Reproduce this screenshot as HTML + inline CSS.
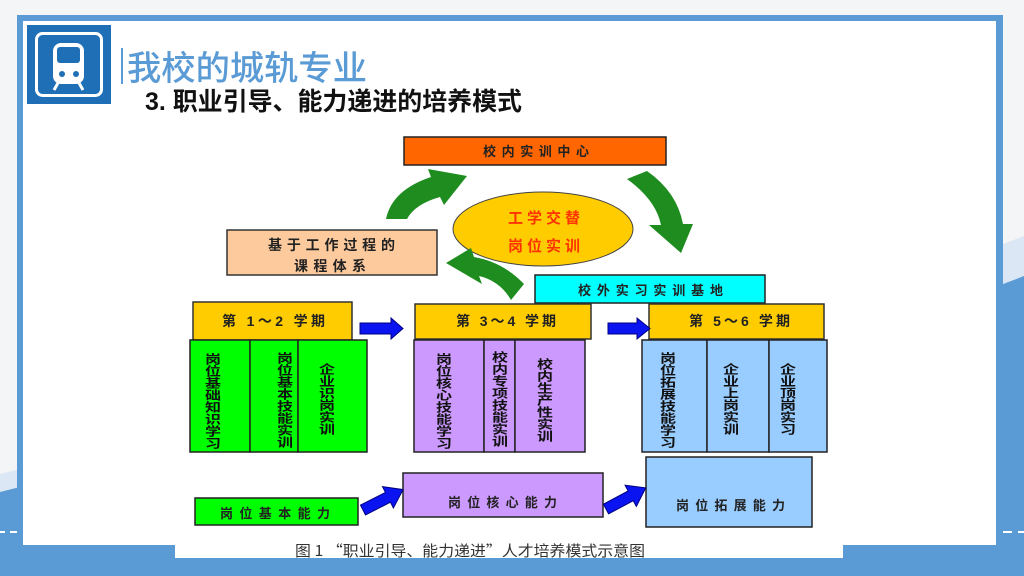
<!DOCTYPE html>
<html><head><meta charset="utf-8">
<style>
html,body{margin:0;padding:0;}
body{width:1024px;height:576px;position:relative;overflow:hidden;background:#f4f5f7;font-family:"Liberation Sans","Noto Sans CJK SC",sans-serif;}
svg{position:absolute;left:0;top:0;}
.v{position:absolute;writing-mode:vertical-rl;font-family:"Liberation Sans","Noto Sans CJK SC",sans-serif;font-weight:700;font-size:16px;line-height:16px;color:#111;width:16px;transform:scaleY(0.75);transform-origin:0 0;white-space:nowrap;}
</style></head><body>
<svg width="1024" height="576" viewBox="0 0 1024 576" font-family="'Liberation Sans','Noto Sans CJK SC',sans-serif">
  <!-- background -->
  <rect width="1024" height="576" fill="#f4f5f7"/>
  <polygon points="0,474 24,468 24,576 0,576" fill="#dbe7f4"/>
  <polygon points="0,492 24,486 24,576 0,576" fill="#5b9bd5"/>
  <polygon points="998,246 1024,236 1024,576 998,576" fill="#dbe7f4"/>
  <polygon points="998,286 1024,276 1024,576 998,576" fill="#5b9bd5"/>
  <rect x="17" y="15" width="986" height="561" fill="#5b9bd5"/>
  <rect x="23" y="21" width="973" height="524" fill="#ffffff"/>
  <rect x="175" y="530" width="668" height="28" fill="#ffffff"/>
  <!-- dashes -->
  <rect x="0" y="531" width="5" height="2" fill="#fff"/>
  <rect x="10" y="531" width="7" height="2" fill="#fff"/>
  <rect x="1003" y="531" width="9" height="2" fill="#fff"/>
  <rect x="1018" y="531" width="6" height="2" fill="#fff"/>

  <!-- icon -->
  <rect x="27" y="25" width="84" height="79" fill="#1f6fb6"/>
  <rect x="36.5" y="33.5" width="65" height="62" rx="6" fill="none" stroke="#fff" stroke-width="3"/>
  <rect x="53" y="43" width="31" height="41" rx="8" fill="#fff"/>
  <rect x="57" y="47" width="23" height="16" rx="3" fill="#1f6fb6"/>
  <circle cx="62" cy="74" r="3" fill="#1f6fb6"/>
  <circle cx="76" cy="74" r="3" fill="#1f6fb6"/>
  <path d="M58,83 L54,90 M79,83 L83,90" stroke="#fff" stroke-width="3" fill="none"/>

  <!-- title -->
  <rect x="121" y="48" width="2" height="36" fill="#5b9bd5"/>
  <text x="127" y="80" font-size="34" font-weight="500" fill="#5b9bd5" textLength="240" lengthAdjust="spacingAndGlyphs">我校的城轨专业</text>
  <text x="145" y="110" font-size="25" font-weight="700" fill="#111" textLength="377" lengthAdjust="spacingAndGlyphs">3. 职业引导、能力递进的培养模式</text>

  <!-- top boxes -->
  <rect x="404" y="137" width="262" height="28" fill="#ff6600" stroke="#222" stroke-width="1.5"/>
  <text x="483" y="156" font-size="13" font-weight="700" fill="#222" textLength="106" lengthAdjust="spacing">校内实训中心</text>

  <ellipse cx="543" cy="229" rx="90" ry="37" fill="#ffcc00" stroke="#444" stroke-width="1"/>
  <text x="508" y="223" font-size="15" font-weight="700" fill="#ff3300" textLength="72" lengthAdjust="spacing">工学交替</text>
  <text x="508" y="251" font-size="15" font-weight="700" fill="#ff3300" textLength="72" lengthAdjust="spacing">岗位实训</text>

  <rect x="227" y="230" width="210" height="45" fill="#fcca9c" stroke="#333" stroke-width="1.5"/>
  <text x="268" y="250" font-size="14" font-weight="700" fill="#222" textLength="127" lengthAdjust="spacing">基于工作过程的</text>
  <text x="294" y="271" font-size="14" font-weight="700" fill="#222" textLength="72" lengthAdjust="spacing">课程体系</text>

  <!-- green curved arrows -->
  <path d="M386,219 Q392,190 431,177 L428,169 L467,176 L444,205 L440,197 Q415,204 407,219 Z" fill="#1e8c1e"/>
  <path d="M627,179 L647,171 Q677,192 683,224 L693,224 L681,253 L649,225 L661,225 Q656,200 627,179 Z" fill="#1e8c1e"/>
  <path d="M524,284 Q503,262 474,257 L471,248 L446,263 L482,284 L479,276 Q500,281 511,300 Z" fill="#1e8c1e"/>

  <rect x="535" y="275" width="230" height="28" fill="#00ffff" stroke="#222" stroke-width="1.5"/>
  <text x="578" y="295" font-size="13" font-weight="700" fill="#222" textLength="145" lengthAdjust="spacing">校外实习实训基地</text>

  <!-- semester boxes -->
  <rect x="193" y="302" width="159" height="38" fill="#ffcc00" stroke="#333" stroke-width="1.5"/>
  <text x="222" y="326" font-size="14" font-weight="700" fill="#222" textLength="103" lengthAdjust="spacing">第 1～2 学期</text>
  <rect x="415" y="304" width="176" height="35" fill="#ffcc00" stroke="#333" stroke-width="1.5"/>
  <text x="456" y="326" font-size="14" font-weight="700" fill="#222" textLength="100" lengthAdjust="spacing">第 3～4 学期</text>
  <rect x="649" y="304" width="175" height="35" fill="#ffcc00" stroke="#333" stroke-width="1.5"/>
  <text x="689" y="326" font-size="14" font-weight="700" fill="#222" textLength="101" lengthAdjust="spacing">第 5～6 学期</text>

  <!-- blue arrows -->
  <path d="M360,323 L391,323 L391,318 L403,328.5 L391,339 L391,334 L360,334 Z" fill="#0a14f0" stroke="#000080" stroke-width="1"/>
  <path d="M608,323 L637,323 L637,318 L650,328.5 L637,339 L637,334 L608,334 Z" fill="#0a14f0" stroke="#000080" stroke-width="1"/>

  <!-- columns -->
  <g stroke="#222" stroke-width="1.5">
    <rect x="190" y="340" width="60" height="112" fill="#00ff00"/>
    <rect x="250" y="340" width="48" height="112" fill="#00ff00"/>
    <rect x="298" y="340" width="69" height="112" fill="#00ff00"/>
    <rect x="414" y="340" width="70" height="112" fill="#cc99ff"/>
    <rect x="484" y="340" width="31" height="112" fill="#cc99ff"/>
    <rect x="515" y="340" width="70" height="112" fill="#cc99ff"/>
    <rect x="642" y="340" width="65" height="112" fill="#99ccff"/>
    <rect x="707" y="340" width="62" height="112" fill="#99ccff"/>
    <rect x="769" y="340" width="58" height="112" fill="#99ccff"/>
  </g>

  <!-- bottom boxes -->
  <rect x="195" y="498" width="163" height="27" fill="#00ff00" stroke="#222" stroke-width="1.5"/>
  <text x="220" y="518" font-size="13" font-weight="700" fill="#222" textLength="110" lengthAdjust="spacing">岗位基本能力</text>
  <rect x="403" y="473" width="200" height="44" fill="#cc99ff" stroke="#222" stroke-width="1.5"/>
  <text x="448" y="507" font-size="13" font-weight="700" fill="#222" textLength="109" lengthAdjust="spacing">岗位核心能力</text>
  <rect x="646" y="457" width="166" height="70" fill="#99ccff" stroke="#222" stroke-width="1.5"/>
  <text x="676" y="510" font-size="13" font-weight="700" fill="#222" textLength="109" lengthAdjust="spacing">岗位拓展能力</text>

  <g transform="translate(363,510) rotate(-27)"><path d="M0,-5.5 L28,-5.5 L28,-12 L45,0 L28,12 L28,5.5 L0,5.5 Z" fill="#0a14f0" stroke="#000080" stroke-width="1"/></g>
  <g transform="translate(606,509) rotate(-28)"><path d="M0,-5.5 L28,-5.5 L28,-12 L45,0 L28,12 L28,5.5 L0,5.5 Z" fill="#0a14f0" stroke="#000080" stroke-width="1"/></g>

  <!-- caption -->
  <text x="295" y="556" font-size="15" fill="#333" textLength="350" lengthAdjust="spacingAndGlyphs" font-family="'Noto Sans CJK SC','Liberation Sans',sans-serif">图 1  “职业引导、能力递进”人才培养模式示意图</text>
</svg>

<div class="v" style="left:202px;top:353px;">岗位基础知识学习</div>
<div class="v" style="left:274px;top:352px;">岗位基本技能实训</div>
<div class="v" style="left:316px;top:363px;">企业识岗实训</div>
<div class="v" style="left:433px;top:353px;">岗位核心技能学习</div>
<div class="v" style="left:489px;top:351px;">校内专项技能实训</div>
<div class="v" style="left:534px;top:358px;">校内生产性实训</div>
<div class="v" style="left:657px;top:352px;">岗位拓展技能学习</div>
<div class="v" style="left:720px;top:363px;">企业上岗实训</div>
<div class="v" style="left:777px;top:363px;">企业顶岗实习</div>
</body></html>
